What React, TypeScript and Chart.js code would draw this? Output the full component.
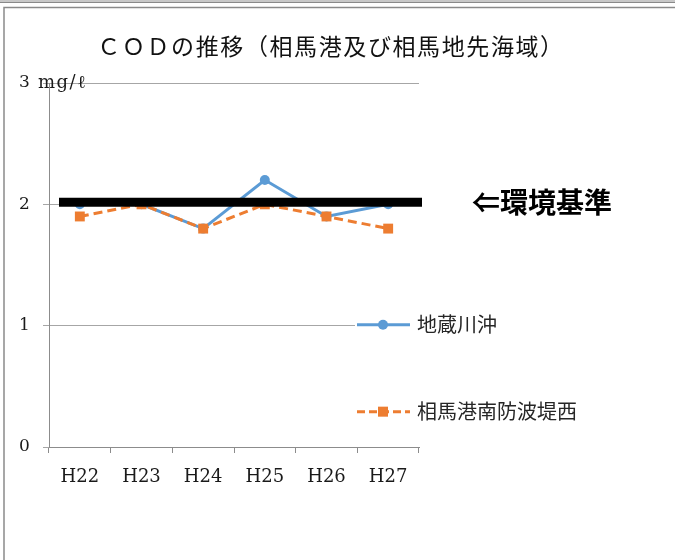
import React, { useEffect, useRef } from "react";
import { Chart, registerables } from "chart.js";

Chart.register(...registerables);

const categories = ["H22", "H23", "H24", "H25", "H26", "H27"];
const jizoValues = [2.0, 2.0, 1.8, 2.2, 1.9, 2.0];
const somaValues = [1.9, 2.0, 1.8, 2.0, 1.9, 1.8];
const seriesNames = ["地蔵川沖", "相馬港南防波堤西"];
const yMin = 0;
const yMax = 3;
const yStep = 1;
const unitLabel = "mg/ℓ";
const standardValue = 2;
const standardLabel = "⇐環境基準";
const titleText = "ＣＯＤの推移（相馬港及び相馬地先海域）";

const BLUE = "#5B9BD5";
const ORANGE = "#ED7D31";
const GRID = "#a6a6a6";
const AXIS = "#8c8c8c";
const CJK = '"Noto Sans CJK JP", "Noto Sans", sans-serif';
const SERIF = '"DejaVu Serif", "Liberation Serif", serif';

const decorPlugin = {
  id: "decor",
  beforeDraw(chart: any) {
    const { ctx, width, height } = chart;
    ctx.save();
    ctx.fillStyle = "#ffffff";
    ctx.fillRect(0, 0, width, height);
    ctx.fillStyle = "#c8c8c8";
    ctx.fillRect(0, 0, width, 2);
    ctx.fillStyle = "#8a8a8a";
    ctx.fillRect(0, 2, width, 1);
    ctx.strokeStyle = "#8a8a8a";
    ctx.lineWidth = 1.5;
    ctx.beginPath();
    ctx.moveTo(4, height);
    ctx.lineTo(4, 7.5);
    ctx.lineTo(width, 7.5);
    ctx.stroke();
    ctx.fillStyle = "#111111";
    ctx.font = `23px ${CJK}`;
    (ctx as any).letterSpacing = "1.6px";
    ctx.textAlign = "center";
    ctx.textBaseline = "middle";
    ctx.fillText(titleText, 331, 46);
    (ctx as any).letterSpacing = "0px";
    ctx.restore();
  },
  afterDatasetsDraw(chart: any) {
    const { ctx, chartArea, scales } = chart;
    const y = scales.y.getPixelForValue(standardValue) - 2;
    ctx.save();
    ctx.strokeStyle = "#000000";
    ctx.lineWidth = 9;
    ctx.beginPath();
    ctx.moveTo(chartArea.left + 10, y);
    ctx.lineTo(chartArea.right + 3, y);
    ctx.stroke();
    ctx.fillStyle = "#000000";
    ctx.font = `bold 28px ${CJK}`;
    ctx.textAlign = "left";
    ctx.textBaseline = "middle";
    ctx.fillText(standardLabel, 472, y);
    ctx.restore();
  },
  afterDraw(chart: any) {
    const { ctx, scales } = chart;
    ctx.save();
    ctx.fillStyle = "#1a1a1a";
    ctx.font = `18px ${SERIF}`;
    (ctx as any).letterSpacing = "1.5px";
    ctx.textAlign = "left";
    ctx.textBaseline = "middle";
    ctx.fillText(unitLabel, 38, scales.y.getPixelForValue(yMax));
    (ctx as any).letterSpacing = "0px";
    ctx.restore();

    const y1 = scales.y.getPixelForValue(1) - 1;
    const items = [
      { y: y1, color: BLUE, dash: [] as number[], style: "circle", name: seriesNames[0] },
      { y: y1 + 87, color: ORANGE, dash: [8, 4], style: "rect", name: seriesNames[1] },
    ];
    ctx.save();
    ctx.fillStyle = "#ffffff";
    ctx.fillRect(355, 300, 250, 130);
    items.forEach((it) => {
      ctx.strokeStyle = it.color;
      ctx.lineWidth = 3;
      ctx.setLineDash(it.dash);
      ctx.beginPath();
      ctx.moveTo(357, it.y);
      ctx.lineTo(410, it.y);
      ctx.stroke();
      ctx.setLineDash([]);
      ctx.fillStyle = it.color;
      if (it.style === "circle") {
        ctx.beginPath();
        ctx.arc(383, it.y, 5, 0, Math.PI * 2);
        ctx.fill();
      } else {
        ctx.fillRect(378, it.y - 5, 10, 10);
      }
      ctx.fillStyle = "#262626";
      ctx.font = `20px ${CJK}`;
      ctx.textAlign = "left";
      ctx.textBaseline = "middle";
      ctx.fillText(it.name, 417, it.y);
    });
    ctx.restore();
  },
};

export default function App() {
  const ref = useRef<HTMLCanvasElement | null>(null);
  useEffect(() => {
    if (!ref.current) return;
    const chart = new Chart(ref.current, {
      type: "line",
      data: {
        labels: categories,
        datasets: [
          {
            label: seriesNames[0],
            data: jizoValues,
            borderColor: BLUE,
            backgroundColor: BLUE,
            borderWidth: 3,
            pointRadius: 5,
            pointStyle: "circle",
            pointBorderWidth: 0,
            tension: 0,
            order: 1,
          },
          {
            label: seriesNames[1],
            data: somaValues,
            borderColor: ORANGE,
            backgroundColor: ORANGE,
            borderWidth: 3,
            borderDash: [9, 5],
            pointRadius: 7,
            pointStyle: "rect",
            pointBorderWidth: 0,
            tension: 0,
            order: 0,
          },
        ],
      },
      options: {
        responsive: false,
        animation: false,
        devicePixelRatio: 1,
        layout: { padding: { top: 83, left: 19, right: 256, bottom: 73 } },
        plugins: {
          legend: { display: false },
          title: { display: false },
          tooltip: { enabled: false },
        },
        scales: {
          x: {
            offset: true,
            grid: {
              display: true,
              offset: true,
              drawOnChartArea: false,
              drawTicks: true,
              tickLength: 6,
              color: AXIS,
            },
            border: { display: true, color: AXIS, width: 1 },
            ticks: {
              color: "#1a1a1a",
              font: { family: SERIF, size: 18 },
              padding: 14,
              maxRotation: 0,
              autoSkip: false,
            },
            afterFit: (s: any) => {
              s.height = 40;
            },
          },
          y: {
            min: yMin,
            max: yMax,
            grid: {
              color: GRID,
              drawTicks: true,
              tickLength: 6,
            },
            border: { display: true, color: AXIS, width: 1 },
            ticks: {
              stepSize: yStep,
              crossAlign: "far",
              color: "#1a1a1a",
              font: { family: SERIF, size: 17 },
            },
            afterFit: (s: any) => {
              s.width = 30;
            },
          },
        },
      },
      plugins: [decorPlugin],
    } as any);
    return () => chart.destroy();
  }, []);
  return (
    <div style={{ position: "fixed", left: 0, top: 0, width: 675, height: 560, background: "#fff" }}>
      <canvas ref={ref} width={675} height={560} style={{ width: 675, height: 560, display: "block" }} />
    </div>
  );
}
